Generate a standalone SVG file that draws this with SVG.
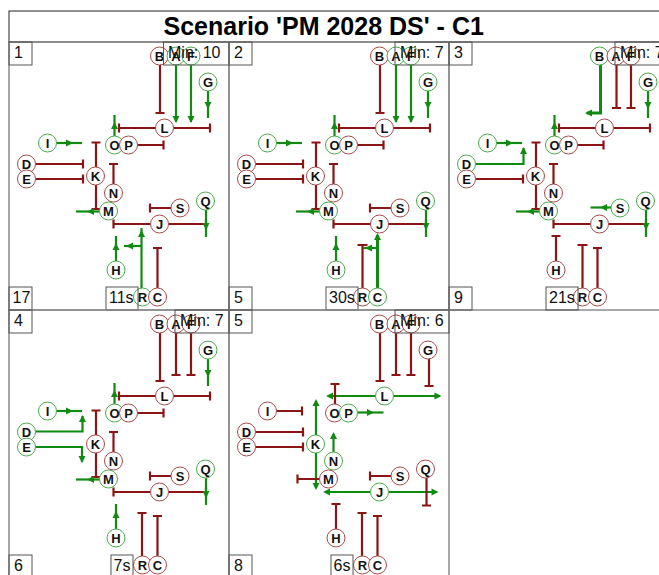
<svg xmlns="http://www.w3.org/2000/svg" width="659" height="575" viewBox="0 0 659 575">
<style>
.frame{fill:none;stroke:#8c8c8c;stroke-width:1.5}
.tbox{fill:none;stroke:#222;stroke-width:1}
.box{fill:none;stroke:#555;stroke-width:1}
.lbl{font-family:'Liberation Sans',Arial,sans-serif;font-size:16px;fill:#111}
.ttl{font-family:'Liberation Sans',Arial,sans-serif;font-size:25px;font-weight:bold;fill:#000}
.r{fill:none;stroke:#8b1414;stroke-width:2.2}
.g{fill:none;stroke:#118a11;stroke-width:2.2}
.thick{stroke-width:3}
.ra{fill:#8b1414}
.ga{fill:#118a11}
.nr circle{fill:#fff;stroke:#a84a4a;stroke-width:1}
.ng circle{fill:#fff;stroke:#4caa4c;stroke-width:1}
.nr text,.ng text{font-family:'Liberation Sans',Arial,sans-serif;font-size:13px;font-weight:bold;fill:#111;text-anchor:middle}
</style>
<defs>
<path id="ah" d="M0,0L-7,-3.5L-7,3.5Z"/>
</defs>
<rect width="659" height="575" fill="#fff"/>
<g id="title">
<rect class="tbox" x="9" y="11" width="660" height="31"/>
<text class="ttl" x="163.5" y="35">Scenario 'PM 2028 DS' - C1</text>
</g>

<!-- Panel 1 -->
<g id="panel1">
<rect class="frame" x="9" y="42" width="220" height="268"/>
<g id="p1-edges">
<path class="r" d="M160,65V113M155.5,113H164.5"/>
<path class="g" d="M176,65V122"/><use href="#ah" class="ga" transform="translate(176,123) rotate(90)"/>
<path class="g" d="M191,65V122"/><use href="#ah" class="ga" transform="translate(191,123) rotate(90)"/>
<path class="g" d="M208,91V118"/><use href="#ah" class="ga" transform="translate(208,109) rotate(90)"/>
<path class="r" d="M155.5,128H119M119,123.5V132.5"/>
<path class="r" d="M173.5,128H210M210,123.5V132.5"/>
<path class="g" d="M114.5,136V115"/><use href="#ah" class="ga" transform="translate(114.5,122) rotate(-90)"/>
<path class="r" d="M137.5,145H163.5M163.5,140.5V149.5"/>
<path class="g" d="M56.5,143H82"/><use href="#ah" class="ga" transform="translate(73,143)"/>
<path class="r" d="M35.5,164H83M83,159.5V168.5"/>
<path class="r" d="M35.5,179H83M83,174.5V183.5"/>
<path class="r" d="M96,167V142.5M91.5,142.5H100.5"/>
<path class="r" d="M96,185V209M91.5,209H100.5"/>
<path class="r" d="M113.5,184V164M109,164H118"/>
<path class="g" d="M99.5,211.5H76"/><use href="#ah" class="ga" transform="translate(87,211.5) rotate(180)"/>
<path class="r" d="M150.5,224H113.5M113.5,219.5V228.5"/>
<path class="r" d="M168.5,224H206M206,219.5V228.5"/>
<path class="g" d="M206,210V237"/><use href="#ah" class="ga" transform="translate(206,230) rotate(90)"/>
<path class="r" d="M171,208H150M150,203.5V212.5"/>
<path class="g" d="M116,261V236"/><use href="#ah" class="ga" transform="translate(116,243) rotate(-90)"/>
<path class="g" d="M141.5,288V228"/><use href="#ah" class="ga" transform="translate(141.5,230) rotate(-90)"/>
<path class="g" d="M141.5,246H124"/><use href="#ah" class="ga" transform="translate(126,246) rotate(180)"/>
<path class="r" d="M157.5,288V248M153,248H162"/>
</g>
<g id="p1-B" class="nr"><circle cx="159.5" cy="56" r="9"/><text x="159.5" y="60.5">B</text></g>
<g id="p1-A" class="ng"><circle cx="176" cy="56" r="9"/><text x="176" y="60.5">A</text></g>
<g id="p1-F" class="ng"><circle cx="191" cy="56" r="9"/><text x="191" y="60.5">F</text></g>
<g id="p1-G" class="ng"><circle cx="208" cy="82" r="9"/><text x="208" y="86.5">G</text></g>
<g id="p1-L" class="nr"><circle cx="164.5" cy="128" r="9"/><text x="164.5" y="132.5">L</text></g>
<g id="p1-I" class="ng"><circle cx="47.5" cy="143" r="9"/><text x="47.5" y="147.5">I</text></g>
<g id="p1-O" class="ng"><circle cx="114.5" cy="145" r="9"/><text x="114.5" y="149.5">O</text></g>
<g id="p1-P" class="nr"><circle cx="128.5" cy="145" r="9"/><text x="128.5" y="149.5">P</text></g>
<g id="p1-D" class="nr"><circle cx="26.5" cy="164" r="9"/><text x="26.5" y="168.5">D</text></g>
<g id="p1-E" class="nr"><circle cx="26.5" cy="179" r="9"/><text x="26.5" y="183.5">E</text></g>
<g id="p1-K" class="nr"><circle cx="95.5" cy="176" r="9"/><text x="95.5" y="180.5">K</text></g>
<g id="p1-N" class="nr"><circle cx="113.5" cy="193" r="9"/><text x="113.5" y="197.5">N</text></g>
<g id="p1-M" class="ng"><circle cx="108.5" cy="211" r="9"/><text x="108.5" y="215.5">M</text></g>
<g id="p1-S" class="nr"><circle cx="180" cy="208" r="9"/><text x="180" y="212.5">S</text></g>
<g id="p1-Q" class="ng"><circle cx="205.5" cy="201" r="9"/><text x="205.5" y="205.5">Q</text></g>
<g id="p1-J" class="nr"><circle cx="159.5" cy="224" r="9"/><text x="159.5" y="228.5">J</text></g>
<g id="p1-H" class="ng"><circle cx="116" cy="270" r="9"/><text x="116" y="274.5">H</text></g>
<g id="p1-R" class="ng"><circle cx="142.5" cy="297" r="9"/><text x="142.5" y="301.5">R</text></g>
<g id="p1-C" class="nr"><circle cx="157.5" cy="297" r="9"/><text x="157.5" y="301.5">C</text></g>
<g id="p1-labels">
<rect class="box" x="9" y="42" width="23" height="23"/><text class="lbl" x="14" y="58">1</text>
<rect class="box" x="163.5" y="42" width="65.5" height="23"/><text class="lbl" x="168" y="58">Min: 10</text>
<rect class="box" x="9" y="287" width="23" height="23"/><text class="lbl" x="12.5" y="303">17</text>
<rect class="box" x="106" y="287" width="32" height="23"/><text class="lbl" x="109" y="303">11s</text>
</g>
</g>

<!-- Panel 2 -->
<g id="panel2" transform="translate(220,0)">
<rect class="frame" x="9" y="42" width="220" height="268"/>
<g id="p2-edges">
<path class="r" d="M160,65V113M155.5,113H164.5"/>
<path class="g" d="M176,65V122"/><use href="#ah" class="ga" transform="translate(176,123) rotate(90)"/>
<path class="g" d="M191,65V122"/><use href="#ah" class="ga" transform="translate(191,123) rotate(90)"/>
<path class="g" d="M208,91V118"/><use href="#ah" class="ga" transform="translate(208,109) rotate(90)"/>
<path class="r" d="M155.5,128H119M119,123.5V132.5"/>
<path class="r" d="M173.5,128H210M210,123.5V132.5"/>
<path class="g" d="M114.5,136V115"/><use href="#ah" class="ga" transform="translate(114.5,122) rotate(-90)"/>
<path class="r" d="M137.5,145H163.5M163.5,140.5V149.5"/>
<path class="g" d="M56.5,143H82"/><use href="#ah" class="ga" transform="translate(73,143)"/>
<path class="r" d="M35.5,164H83M83,159.5V168.5"/>
<path class="r" d="M35.5,179H83M83,174.5V183.5"/>
<path class="r" d="M96,167V142.5M91.5,142.5H100.5"/>
<path class="r" d="M96,185V209M91.5,209H100.5"/>
<path class="r" d="M113.5,184V164M109,164H118"/>
<path class="g" d="M99.5,211.5H76"/><use href="#ah" class="ga" transform="translate(87,211.5) rotate(180)"/>
<path class="r" d="M150.5,224H113.5M113.5,219.5V228.5"/>
<path class="r" d="M168.5,224H206M206,219.5V228.5"/>
<path class="g" d="M206,210V237"/><use href="#ah" class="ga" transform="translate(206,230) rotate(90)"/>
<path class="r" d="M171,208H150M150,203.5V212.5"/>
<path class="g" d="M116,261V236"/><use href="#ah" class="ga" transform="translate(116,243) rotate(-90)"/>
<path class="r" d="M142.5,288V245M137.5,245H147.5"/>
<path class="g thick" d="M157.5,288V235"/><use href="#ah" class="ga" transform="translate(157.5,233) rotate(-90)"/>
<path class="g" d="M157.5,248H143"/><use href="#ah" class="ga" transform="translate(145,248) rotate(180)"/>
</g>
<g id="p2-B" class="nr"><circle cx="159.5" cy="56" r="9"/><text x="159.5" y="60.5">B</text></g>
<g id="p2-A" class="ng"><circle cx="176" cy="56" r="9"/><text x="176" y="60.5">A</text></g>
<g id="p2-F" class="ng"><circle cx="191" cy="56" r="9"/><text x="191" y="60.5">F</text></g>
<g id="p2-G" class="ng"><circle cx="208" cy="82" r="9"/><text x="208" y="86.5">G</text></g>
<g id="p2-L" class="nr"><circle cx="164.5" cy="128" r="9"/><text x="164.5" y="132.5">L</text></g>
<g id="p2-I" class="ng"><circle cx="47.5" cy="143" r="9"/><text x="47.5" y="147.5">I</text></g>
<g id="p2-O" class="ng"><circle cx="114.5" cy="145" r="9"/><text x="114.5" y="149.5">O</text></g>
<g id="p2-P" class="nr"><circle cx="128.5" cy="145" r="9"/><text x="128.5" y="149.5">P</text></g>
<g id="p2-D" class="nr"><circle cx="26.5" cy="164" r="9"/><text x="26.5" y="168.5">D</text></g>
<g id="p2-E" class="nr"><circle cx="26.5" cy="179" r="9"/><text x="26.5" y="183.5">E</text></g>
<g id="p2-K" class="nr"><circle cx="95.5" cy="176" r="9"/><text x="95.5" y="180.5">K</text></g>
<g id="p2-N" class="nr"><circle cx="113.5" cy="193" r="9"/><text x="113.5" y="197.5">N</text></g>
<g id="p2-M" class="ng"><circle cx="108.5" cy="211" r="9"/><text x="108.5" y="215.5">M</text></g>
<g id="p2-S" class="nr"><circle cx="180" cy="208" r="9"/><text x="180" y="212.5">S</text></g>
<g id="p2-Q" class="ng"><circle cx="205.5" cy="201" r="9"/><text x="205.5" y="205.5">Q</text></g>
<g id="p2-J" class="nr"><circle cx="159.5" cy="224" r="9"/><text x="159.5" y="228.5">J</text></g>
<g id="p2-H" class="ng"><circle cx="116" cy="270" r="9"/><text x="116" y="274.5">H</text></g>
<g id="p2-R" class="nr"><circle cx="142.5" cy="297" r="9"/><text x="142.5" y="301.5">R</text></g>
<g id="p2-C" class="ng"><circle cx="157.5" cy="297" r="9"/><text x="157.5" y="301.5">C</text></g>
<g id="p2-labels">
<rect class="box" x="9" y="42" width="23" height="23"/><text class="lbl" x="14" y="58">2</text>
<rect class="box" x="175" y="42" width="54" height="23"/><text class="lbl" x="180" y="58">Min: 7</text>
<rect class="box" x="9" y="287" width="23" height="23"/><text class="lbl" x="14" y="303">5</text>
<rect class="box" x="106" y="287" width="32" height="23"/><text class="lbl" x="109" y="303">30s</text>
</g>
</g>

<!-- Panel 3 -->
<g id="panel3" transform="translate(440,0)">
<rect class="frame" x="9" y="42" width="220" height="268"/>
<g id="p3-edges">
<path class="g thick" d="M160.5,65V113H147"/><use href="#ah" class="ga" transform="translate(145,113) rotate(180)"/>
<path class="r" d="M176.5,65V108M172,108H181"/>
<path class="r" d="M191,65V108M186.5,108H195.5"/>
<path class="g" d="M208,91V118"/><use href="#ah" class="ga" transform="translate(208,109) rotate(90)"/>
<path class="r" d="M155.5,128H119M119,123.5V132.5"/>
<path class="r" d="M173.5,128H210M210,123.5V132.5"/>
<path class="g" d="M114.5,136V115"/><use href="#ah" class="ga" transform="translate(114.5,122) rotate(-90)"/>
<path class="r" d="M137.5,145H163.5M163.5,140.5V149.5"/>
<path class="g" d="M56.5,143H82"/><use href="#ah" class="ga" transform="translate(73,143)"/>
<path class="g" d="M35.5,164H83.5V148"/><use href="#ah" class="ga" transform="translate(83.5,147) rotate(-90)"/>
<path class="r" d="M35.5,179H83M83,174.5V183.5"/>
<path class="r" d="M96,167V142.5M91.5,142.5H100.5"/>
<path class="r" d="M96,185V209M91.5,209H100.5"/>
<path class="r" d="M113.5,184V164M109,164H118"/>
<path class="g" d="M99.5,211.5H76"/><use href="#ah" class="ga" transform="translate(87,211.5) rotate(180)"/>
<path class="r" d="M150.5,224H113.5M113.5,219.5V228.5"/>
<path class="r" d="M168.5,224H206M206,219.5V228.5"/>
<path class="g" d="M206,210V237"/><use href="#ah" class="ga" transform="translate(206,230) rotate(90)"/>
<path class="g" d="M171,207.5H150.5"/><use href="#ah" class="ga" transform="translate(160,207.5) rotate(180)"/>
<path class="r" d="M116,261V236M111.5,236H120.5"/>
<path class="r" d="M142.5,288V245M137.5,245H147.5"/>
<path class="r" d="M157.5,288V248M153,248H162"/>
</g>
<g id="p3-B" class="ng"><circle cx="159.5" cy="56" r="9"/><text x="159.5" y="60.5">B</text></g>
<g id="p3-A" class="nr"><circle cx="176" cy="56" r="9"/><text x="176" y="60.5">A</text></g>
<g id="p3-F" class="nr"><circle cx="191" cy="56" r="9"/><text x="191" y="60.5">F</text></g>
<g id="p3-G" class="ng"><circle cx="208" cy="82" r="9"/><text x="208" y="86.5">G</text></g>
<g id="p3-L" class="nr"><circle cx="164.5" cy="128" r="9"/><text x="164.5" y="132.5">L</text></g>
<g id="p3-I" class="ng"><circle cx="47.5" cy="143" r="9"/><text x="47.5" y="147.5">I</text></g>
<g id="p3-O" class="ng"><circle cx="114.5" cy="145" r="9"/><text x="114.5" y="149.5">O</text></g>
<g id="p3-P" class="nr"><circle cx="128.5" cy="145" r="9"/><text x="128.5" y="149.5">P</text></g>
<g id="p3-D" class="ng"><circle cx="26.5" cy="164" r="9"/><text x="26.5" y="168.5">D</text></g>
<g id="p3-E" class="nr"><circle cx="26.5" cy="179" r="9"/><text x="26.5" y="183.5">E</text></g>
<g id="p3-K" class="nr"><circle cx="95.5" cy="176" r="9"/><text x="95.5" y="180.5">K</text></g>
<g id="p3-N" class="nr"><circle cx="113.5" cy="193" r="9"/><text x="113.5" y="197.5">N</text></g>
<g id="p3-M" class="ng"><circle cx="108.5" cy="211" r="9"/><text x="108.5" y="215.5">M</text></g>
<g id="p3-S" class="ng"><circle cx="180" cy="208" r="9"/><text x="180" y="212.5">S</text></g>
<g id="p3-Q" class="ng"><circle cx="205.5" cy="201" r="9"/><text x="205.5" y="205.5">Q</text></g>
<g id="p3-J" class="nr"><circle cx="159.5" cy="224" r="9"/><text x="159.5" y="228.5">J</text></g>
<g id="p3-H" class="nr"><circle cx="116" cy="270" r="9"/><text x="116" y="274.5">H</text></g>
<g id="p3-R" class="nr"><circle cx="142.5" cy="297" r="9"/><text x="142.5" y="301.5">R</text></g>
<g id="p3-C" class="nr"><circle cx="157.5" cy="297" r="9"/><text x="157.5" y="301.5">C</text></g>
<g id="p3-labels">
<rect class="box" x="9" y="42" width="23" height="23"/><text class="lbl" x="14" y="58">3</text>
<rect class="box" x="175" y="42" width="54" height="23"/><text class="lbl" x="180" y="58">Min: 7</text>
<rect class="box" x="9" y="287" width="23" height="23"/><text class="lbl" x="14" y="303">9</text>
<rect class="box" x="106" y="287" width="32" height="23"/><text class="lbl" x="109" y="303">21s</text>
</g>
</g>

<!-- Panel 4 -->
<g id="panel4" transform="translate(0,268)">
<rect class="frame" x="9" y="42" width="220" height="268"/>
<g id="p4-edges">
<path class="r" d="M160,65V113M155.5,113H164.5"/>
<path class="r" d="M176,65V107M171.5,107H180.5"/>
<path class="r" d="M191,65V107M186.5,107H195.5"/>
<path class="g" d="M208,91V118"/><use href="#ah" class="ga" transform="translate(208,109) rotate(90)"/>
<path class="r" d="M155.5,128H119M119,123.5V132.5"/>
<path class="r" d="M173.5,128H210M210,123.5V132.5"/>
<path class="g" d="M114.5,136V115"/><use href="#ah" class="ga" transform="translate(114.5,122) rotate(-90)"/>
<path class="r" d="M137.5,145H163.5M163.5,140.5V149.5"/>
<path class="g" d="M56.5,143H82"/><use href="#ah" class="ga" transform="translate(73,143)"/>
<path class="g" d="M35.5,163.5H82.5V148"/><use href="#ah" class="ga" transform="translate(82.5,147) rotate(-90)"/>
<path class="g" d="M35.5,179H82V194"/><use href="#ah" class="ga" transform="translate(82,195) rotate(90)"/>
<path class="r" d="M96,167V142.5M91.5,142.5H100.5"/>
<path class="r" d="M96,185V209M91.5,209H100.5"/>
<path class="r" d="M113.5,184V164M109,164H118"/>
<path class="g" d="M99.5,211.5H76"/><use href="#ah" class="ga" transform="translate(87,211.5) rotate(180)"/>
<path class="r" d="M150.5,224H113.5M113.5,219.5V228.5"/>
<path class="r" d="M168.5,224H206M206,219.5V228.5"/>
<path class="g" d="M206,210V237"/><use href="#ah" class="ga" transform="translate(206,230) rotate(90)"/>
<path class="r" d="M171,208H150M150,203.5V212.5"/>
<path class="g" d="M116,261V236"/><use href="#ah" class="ga" transform="translate(116,243) rotate(-90)"/>
<path class="r" d="M142,288V245M137.5,245H146.5"/>
<path class="r" d="M157.5,288V248M153,248H162"/>
</g>
<g id="p4-B" class="nr"><circle cx="159.5" cy="56" r="9"/><text x="159.5" y="60.5">B</text></g>
<g id="p4-A" class="nr"><circle cx="176" cy="56" r="9"/><text x="176" y="60.5">A</text></g>
<g id="p4-F" class="nr"><circle cx="191" cy="56" r="9"/><text x="191" y="60.5">F</text></g>
<g id="p4-G" class="ng"><circle cx="208" cy="82" r="9"/><text x="208" y="86.5">G</text></g>
<g id="p4-L" class="nr"><circle cx="164.5" cy="128" r="9"/><text x="164.5" y="132.5">L</text></g>
<g id="p4-I" class="ng"><circle cx="47.5" cy="143" r="9"/><text x="47.5" y="147.5">I</text></g>
<g id="p4-O" class="ng"><circle cx="114.5" cy="145" r="9"/><text x="114.5" y="149.5">O</text></g>
<g id="p4-P" class="nr"><circle cx="128.5" cy="145" r="9"/><text x="128.5" y="149.5">P</text></g>
<g id="p4-D" class="ng"><circle cx="26.5" cy="164" r="9"/><text x="26.5" y="168.5">D</text></g>
<g id="p4-E" class="ng"><circle cx="26.5" cy="179" r="9"/><text x="26.5" y="183.5">E</text></g>
<g id="p4-K" class="nr"><circle cx="95.5" cy="176" r="9"/><text x="95.5" y="180.5">K</text></g>
<g id="p4-N" class="nr"><circle cx="113.5" cy="193" r="9"/><text x="113.5" y="197.5">N</text></g>
<g id="p4-M" class="ng"><circle cx="108.5" cy="211" r="9"/><text x="108.5" y="215.5">M</text></g>
<g id="p4-S" class="nr"><circle cx="180" cy="208" r="9"/><text x="180" y="212.5">S</text></g>
<g id="p4-Q" class="ng"><circle cx="205.5" cy="201" r="9"/><text x="205.5" y="205.5">Q</text></g>
<g id="p4-J" class="nr"><circle cx="159.5" cy="224" r="9"/><text x="159.5" y="228.5">J</text></g>
<g id="p4-H" class="ng"><circle cx="116" cy="270" r="9"/><text x="116" y="274.5">H</text></g>
<g id="p4-R" class="nr"><circle cx="142.5" cy="297" r="9"/><text x="142.5" y="301.5">R</text></g>
<g id="p4-C" class="nr"><circle cx="157.5" cy="297" r="9"/><text x="157.5" y="301.5">C</text></g>
<g id="p4-labels">
<rect class="box" x="9" y="42" width="23" height="23"/><text class="lbl" x="14" y="58">4</text>
<rect class="box" x="175" y="42" width="54" height="23"/><text class="lbl" x="180" y="58">Min: 7</text>
<rect class="box" x="9" y="287" width="23" height="23"/><text class="lbl" x="14" y="303">6</text>
<rect class="box" x="111" y="287" width="22" height="23"/><text class="lbl" x="113.5" y="303">7s</text>
</g>
</g>

<!-- Panel 5 -->
<g id="panel5" transform="translate(220,268)">
<rect class="frame" x="9" y="42" width="220" height="268"/>
<g id="p5-edges">
<path class="r" d="M160,65V113M155.5,113H164.5"/>
<path class="r" d="M176,65V107M171.5,107H180.5"/>
<path class="r" d="M191,65V107M186.5,107H195.5"/>
<path class="r" d="M209,91V118M204.5,118H213.5"/>
<path class="g" d="M155.5,128H108"/><use href="#ah" class="ga" transform="translate(106,128) rotate(180)"/>
<path class="g" d="M173.5,128H220"/><use href="#ah" class="ga" transform="translate(221.5,128)"/>
<path class="r" d="M115,136V116M110.5,116H119.5"/>
<path class="g" d="M137.5,144.5H163.5"/><use href="#ah" class="ga" transform="translate(154,144.5)"/>
<path class="r" d="M56.5,143H82M82,138.5V147.5"/>
<path class="r" d="M35.5,164H83M83,159.5V168.5"/>
<path class="r" d="M35.5,179H83M83,174.5V183.5"/>
<path class="g" d="M96,167V133"/><use href="#ah" class="ga" transform="translate(96,131) rotate(-90)"/>
<path class="g" d="M96,185V220"/><use href="#ah" class="ga" transform="translate(96,222) rotate(90)"/>
<path class="g" d="M113.5,184V166"/><use href="#ah" class="ga" transform="translate(113.5,164) rotate(-90)"/>
<path class="r" d="M99.5,211H77.5M77.5,206.5V215.5"/>
<path class="r" d="M171,208H150M150,203.5V212.5"/>
<path class="g" d="M150.5,224H105"/><use href="#ah" class="ga" transform="translate(103,224) rotate(180)"/>
<path class="g" d="M168.5,224H216.5"/><use href="#ah" class="ga" transform="translate(218.5,224)"/>
<path class="r" d="M206.5,210V237.5M202,237.5H211"/>
<path class="r" d="M116,261V236M111.5,236H120.5"/>
<path class="r" d="M142,288V245M137.5,245H146.5"/>
<path class="r" d="M157.5,288V248M153,248H162"/>
</g>
<g id="p5-B" class="nr"><circle cx="159.5" cy="56" r="9"/><text x="159.5" y="60.5">B</text></g>
<g id="p5-A" class="nr"><circle cx="176" cy="56" r="9"/><text x="176" y="60.5">A</text></g>
<g id="p5-F" class="nr"><circle cx="191" cy="56" r="9"/><text x="191" y="60.5">F</text></g>
<g id="p5-G" class="nr"><circle cx="208" cy="82" r="9"/><text x="208" y="86.5">G</text></g>
<g id="p5-L" class="ng"><circle cx="164.5" cy="128" r="9"/><text x="164.5" y="132.5">L</text></g>
<g id="p5-I" class="nr"><circle cx="47.5" cy="143" r="9"/><text x="47.5" y="147.5">I</text></g>
<g id="p5-O" class="nr"><circle cx="114.5" cy="145" r="9"/><text x="114.5" y="149.5">O</text></g>
<g id="p5-P" class="ng"><circle cx="128.5" cy="145" r="9"/><text x="128.5" y="149.5">P</text></g>
<g id="p5-D" class="nr"><circle cx="26.5" cy="164" r="9"/><text x="26.5" y="168.5">D</text></g>
<g id="p5-E" class="nr"><circle cx="26.5" cy="179" r="9"/><text x="26.5" y="183.5">E</text></g>
<g id="p5-K" class="ng"><circle cx="95.5" cy="176" r="9"/><text x="95.5" y="180.5">K</text></g>
<g id="p5-N" class="ng"><circle cx="113.5" cy="193" r="9"/><text x="113.5" y="197.5">N</text></g>
<g id="p5-M" class="nr"><circle cx="108.5" cy="211" r="9"/><text x="108.5" y="215.5">M</text></g>
<g id="p5-S" class="nr"><circle cx="180" cy="208" r="9"/><text x="180" y="212.5">S</text></g>
<g id="p5-Q" class="nr"><circle cx="205.5" cy="201" r="9"/><text x="205.5" y="205.5">Q</text></g>
<g id="p5-J" class="ng"><circle cx="159.5" cy="224" r="9"/><text x="159.5" y="228.5">J</text></g>
<g id="p5-H" class="nr"><circle cx="116" cy="270" r="9"/><text x="116" y="274.5">H</text></g>
<g id="p5-R" class="nr"><circle cx="142.5" cy="297" r="9"/><text x="142.5" y="301.5">R</text></g>
<g id="p5-C" class="nr"><circle cx="157.5" cy="297" r="9"/><text x="157.5" y="301.5">C</text></g>
<g id="p5-labels">
<rect class="box" x="9" y="42" width="23" height="23"/><text class="lbl" x="14" y="58">5</text>
<rect class="box" x="175" y="42" width="54" height="23"/><text class="lbl" x="180" y="58">Min: 6</text>
<rect class="box" x="9" y="287" width="23" height="23"/><text class="lbl" x="14" y="303">8</text>
<rect class="box" x="111" y="287" width="22" height="23"/><text class="lbl" x="113.5" y="303">6s</text>
</g>
</g>
</svg>
